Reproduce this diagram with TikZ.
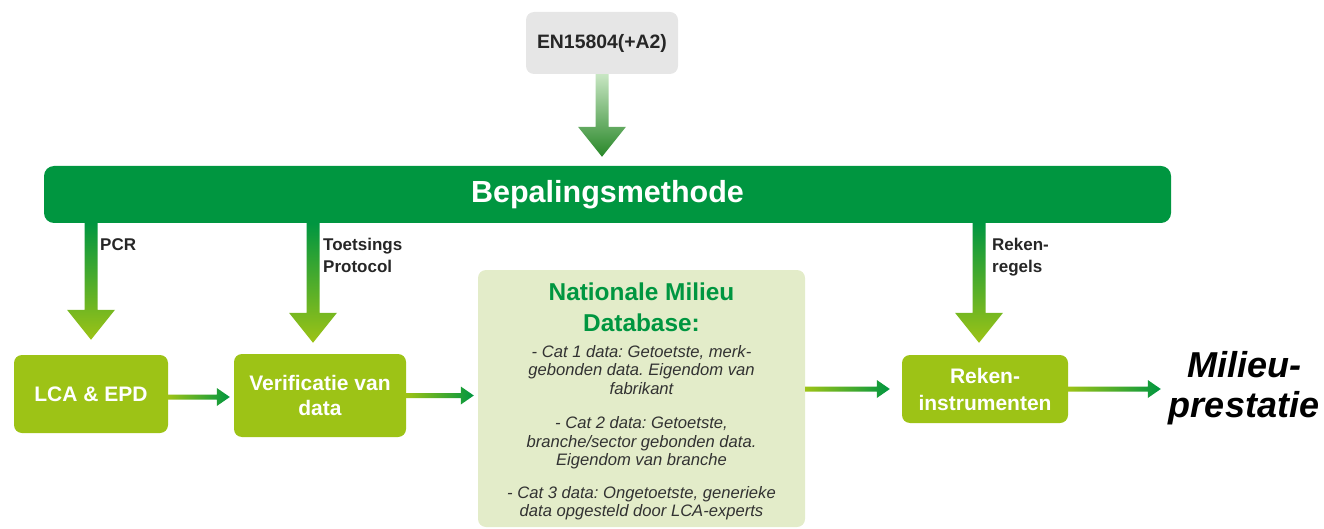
\documentclass[tikz,border=0pt]{standalone}
\usepackage{fontspec}
\setmainfont{Liberation Sans}
\usetikzlibrary{calc}
\frenchspacing

\definecolor{bargreen}{RGB}{0,150,64}
\definecolor{limegreen}{RGB}{157,195,22}
\definecolor{dbfill}{RGB}{227,236,201}
\definecolor{normgray}{RGB}{230,230,230}
\definecolor{fadegreen}{RGB}{200,230,195}
\definecolor{arrowdark}{RGB}{40,135,40}
\definecolor{bodygray}{RGB}{50,50,50}

% fat shaded arrow downwards: from, to, top colour, bottom colour
\newcommand{\downfat}[4]{%
  \shade[top color=#3, bottom color=#4] let \p1=(#1), \p2=(#2) in
    (\x2-6.5pt,\y1) -- (\x2+6.5pt,\y1) -- (\x2+6.5pt,\y2+30pt) -- (\x2+24pt,\y2+30pt)
    -- (\x2,\y2) -- (\x2-24pt,\y2+30pt) -- (\x2-6.5pt,\y2+30pt) -- cycle;}
% thin shaded arrow to the right: from, to
\newcommand{\rightfat}[2]{%
  \shade[left color=limegreen, right color=bargreen] let \p1=(#1), \p2=(#2) in
    (\x1,\y1-2.5pt) -- (\x2-13pt,\y1-2.5pt) -- (\x2-13pt,\y1-9pt) -- (\x2,\y1)
    -- (\x2-13pt,\y1+9pt) -- (\x2-13pt,\y1+2.5pt) -- (\x1,\y1+2.5pt) -- cycle;}

\tikzset{
  greenbox/.style={fill=limegreen, rounded corners=8pt, text=white, align=center,
    font=\fontsize{21}{25}\selectfont\bfseries, inner sep=0pt},
  steplabel/.style={font=\fontsize{17}{22}\selectfont\bfseries, align=left,
    anchor=north west, inner sep=0pt, text=black!85},
  dbline/.style={font=\fontsize{16.6}{18.5}\selectfont\itshape, text=bodygray,
    align=center, inner sep=0pt},
}

\begin{document}
\begin{tikzpicture}[x=1pt,y=-1pt]
  \useasboundingbox (0,0) rectangle (1324,529);

  \node[fill=normgray, rounded corners=8pt, minimum width=152pt, minimum height=62pt,
    font=\fontsize{19.4}{23}\selectfont\bfseries, text=black!85] (norm) at (602,43) {EN15804(+A2)};
  \node[fill=bargreen, rounded corners=10pt, minimum width=1127pt, minimum height=57pt,
    text=white, font=\fontsize{30.5}{34}\selectfont\bfseries] (method) at (607.5,194.5) {Bepalingsmethode};

  \node[greenbox, minimum width=154pt, minimum height=78pt] (lca) at (91,394) {LCA \& EPD};
  \node[greenbox, minimum width=172pt, minimum height=83pt] (verif) at (320,395.5) {Verificatie van\\data};

  \node[fill=dbfill, rounded corners=8pt, minimum width=327pt, minimum height=257pt] (nmd) at (641.5,398.5) {};
  \node[font=\fontsize{24.4}{31}\selectfont\bfseries, text=bargreen, align=center] (nmdtitle) at (641.5,307) {Nationale Milieu\\Database:};
  \node[dbline] (cat1) at (641.5,370) {- Cat 1 data: Getoetste, merk-\\gebonden data. Eigendom van\\fabrikant};
  \node[dbline] (cat2) at (641.5,443) {- Cat 2 data: Getoetste,\\branche/sector gebonden data.\\Eigendom van branche};
  \node[dbline] (cat3) at (641.5,503) {- Cat 3 data: Ongetoetste, generieke\\data opgesteld door LCA-experts};

  \node[greenbox, minimum width=166pt, minimum height=68pt,
    font=\fontsize{21}{27}\selectfont\bfseries] (tools) at (985,389) {Reken-\\instrumenten};
  \node[font=\fontsize{36}{40}\selectfont\bfseries\itshape, align=center, inner sep=0pt] (result) at (1244,388) {Milieu-\\prestatie};

  % labels along the arrows
  \node[steplabel] (pcr) at (100,238) {PCR};
  \node[steplabel] (toets) at (323,238) {Toetsings\\Protocol};
  \node[steplabel] (regels) at (992,238) {Reken-\\regels};

  % arrows
  \downfat{norm.south}{$(norm.south |- method.north)+(0,-9)$}{fadegreen}{arrowdark}
  \downfat{method.south}{$(lca.north)+(0,-15)$}{bargreen}{limegreen}
  \downfat{method.south}{$(verif.north)+(-7,-11)$}{bargreen}{limegreen}
  \downfat{method.south}{$(tools.north)+(-6,-12)$}{bargreen}{limegreen}

  \rightfat{$(lca.east)+(0,3)$}{$(verif.west)+(-4,0)$}
  \rightfat{verif.east}{$(nmd.west)+(-4,0)$}
  \rightfat{nmd.east |- tools.west}{$(tools.west)+(-12,0)$}
  \rightfat{tools.east}{$(result.west)+(-8,0)$}
\end{tikzpicture}
\end{document}
